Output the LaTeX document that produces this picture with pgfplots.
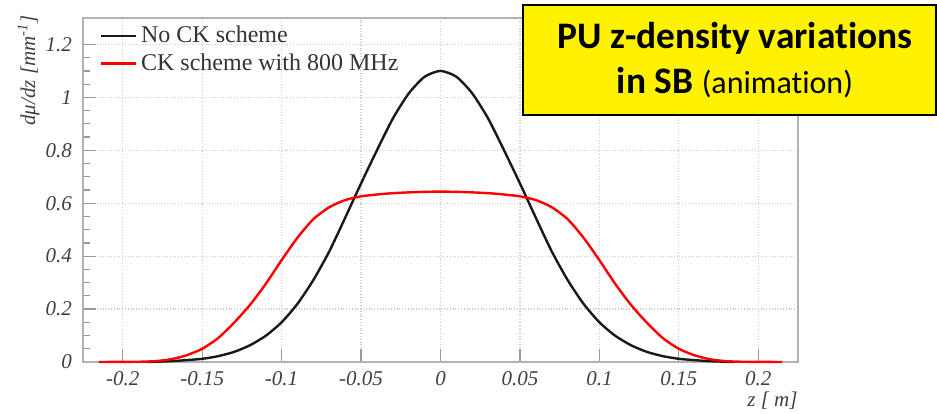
\documentclass[border=0pt]{standalone}
\usepackage{fontspec}
\setmainfont{Liberation Serif}
\newfontfamily\calibri[Ligatures={NoCommon}]{Carlito}
\usepackage{pgfplots}
\pgfplotsset{compat=1.18}
\usepackage{pgfplotstable}

\pgfplotstableread{
z y
-0.185 0
-0.17 0.003
-0.16 0.007
-0.15 0.012
-0.14 0.022
-0.13 0.038
-0.12 0.063
-0.11 0.099
-0.10 0.150
-0.09 0.220
-0.08 0.310
-0.07 0.418
-0.06 0.545
-0.05 0.675
-0.04 0.800
-0.03 0.920
-0.02 1.015
-0.01 1.078
0.00 1.100
0.01 1.078
0.02 1.015
0.03 0.920
0.04 0.800
0.05 0.675
0.06 0.545
0.07 0.418
0.08 0.310
0.09 0.220
0.10 0.150
0.11 0.099
0.12 0.063
0.13 0.038
0.14 0.022
0.15 0.012
0.16 0.007
0.17 0.003
0.185 0
}\nock

\pgfplotstableread{
z y
-0.215 0
-0.19 0.001
-0.18 0.003
-0.17 0.010
-0.16 0.025
-0.15 0.050
-0.14 0.090
-0.13 0.148
-0.12 0.215
-0.11 0.295
-0.10 0.385
-0.09 0.470
-0.08 0.540
-0.07 0.585
-0.06 0.612
-0.05 0.626
-0.04 0.633
-0.03 0.638
-0.02 0.641
-0.01 0.643
0.00 0.644
0.01 0.643
0.02 0.641
0.03 0.638
0.04 0.633
0.05 0.626
0.06 0.612
0.07 0.585
0.08 0.540
0.09 0.470
0.10 0.385
0.11 0.295
0.12 0.215
0.13 0.148
0.14 0.090
0.15 0.050
0.16 0.025
0.17 0.010
0.18 0.003
0.19 0.001
0.215 0
}\ck

\begin{document}
\begin{tikzpicture}
\useasboundingbox (0,0) rectangle (468.5pt,206.5pt);
\begin{axis}[
  at={(41.5pt,25.5pt)}, anchor=south west,
  scale only axis, width=357.5pt, height=172pt,
  xmin=-0.225, xmax=0.225, ymin=0, ymax=1.3,
  xtick={-0.2,-0.15,-0.1,-0.05,0,0.05,0.1,0.15,0.2},
  xticklabels={-0.2,-0.15,-0.1,-0.05,0,0.05,0.1,0.15,0.2},
  ytick={0,0.2,0.4,0.6,0.8,1,1.2},
  yticklabels={0,0.2,0.4,0.6,0.8,1,1.2},
  minor y tick num=3,
  xtick pos=bottom, ytick pos=left,
  tick align=inside,
  major tick length=6.5pt, minor tick length=3.5pt,
  every tick/.style={gray!80, line width=0.6pt},
  axis line style={gray!60, line width=1pt},
  grid=major,
  major grid style={densely dotted, gray!40, line width=0.6pt},
  /pgf/number format/assume math mode=true,
  ticklabel style={font=\fontsize{10.5}{12}\selectfont\itshape, text=black!75},
  xticklabel style={yshift=-1pt},
  yticklabel style={xshift=-2pt},
  xlabel={z [ m]},
  xlabel style={at={(axis description cs:1,0)}, anchor=north east, inner sep=0pt, yshift=-15pt, font=\fontsize{10.5}{12}\selectfont\itshape, text=black!75},
  ylabel={dμ/dz [mm\textsuperscript{-1}]},
  ylabel style={at={(axis description cs:-0.076,1.01)}, anchor=east, inner sep=0pt, font=\fontsize{10.5}{12}\selectfont\itshape, text=black!75},
  legend style={at={(axis description cs:0.02,0.995)}, anchor=north west, draw=none, fill=none,
    font=\fontsize{12}{13}\selectfont, text=black!80, row sep=0pt, inner sep=1pt},
  legend cell align=left,
  legend image code/.code={\draw[#1] (0pt,0pt) -- (17.5pt,0pt);},
  clip=false,
]
\addplot[black!90, line width=1.2pt, smooth, tension=0.4] table[x=z,y=y] {\nock};
\addlegendentry{No CK scheme}
\addplot[red, line width=1.2pt, smooth, tension=0.4] table[x=z,y=y] {\ck};
\addlegendentry{CK scheme with 800 MHz}
\end{axis}
\draw[fill=yellow, draw=black, line width=0.8pt] (261.5pt,149pt) rectangle (468pt,204pt);
\node[align=center, font=\calibri\fontsize{18.7}{22.5}\selectfont, inner sep=0pt] at (367.5pt,176.5pt)
  {\textbf{PU z-density variations}\\\textbf{in SB} {\fontsize{16}{22.5}\selectfont(animation)}};
\end{tikzpicture}
\end{document}
